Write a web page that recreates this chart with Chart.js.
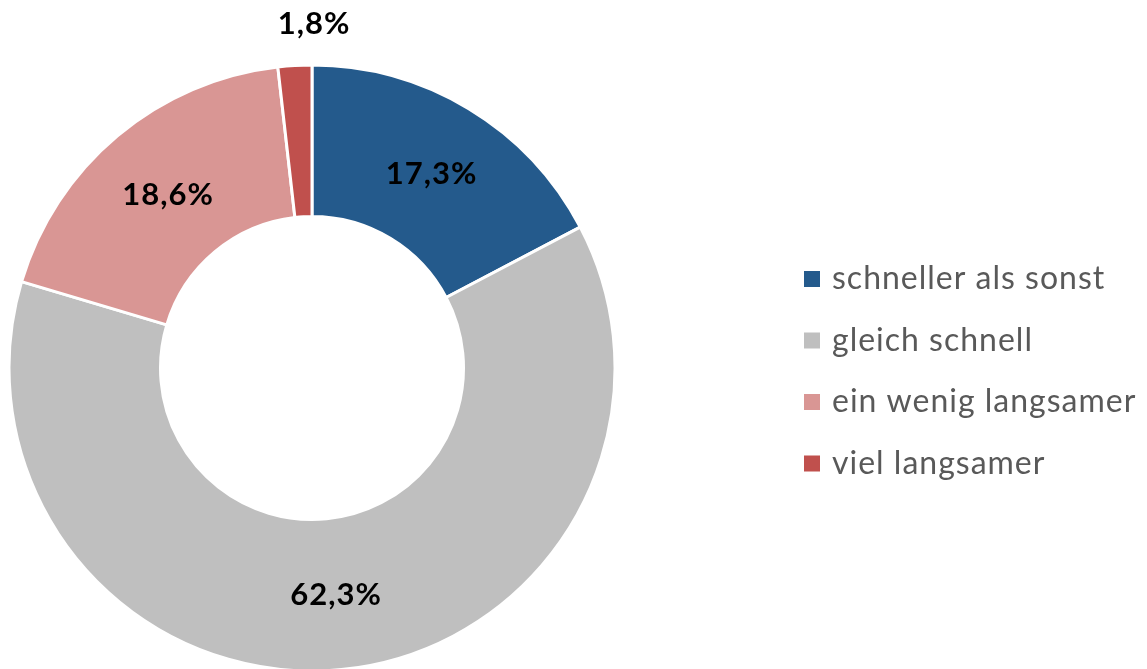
<!DOCTYPE html>
<html><head><meta charset="utf-8">
<script src="https://cdn.jsdelivr.net/npm/chart.js@4/dist/chart.umd.min.js"></script>
<style>html,body{margin:0;padding:0;background:#fff}#wrap{width:1147px;height:669px;position:relative}</style>
</head><body><div id="wrap"><canvas id="c" width="1147" height="669"></canvas></div>
<script>
const categories = ['schneller als sonst', 'gleich schnell', 'ein wenig langsamer', 'viel langsamer'];
const values = [17.3, 62.3, 18.6, 1.8];
const colors = ['#245A8C', '#BFBFBF', '#D99694', '#C0504D'];
const valueLabels = ['17,3%', '62,3%', '18,6%', '1,8%'];

const labelPlugin = {
  id: 'labels',
  afterDatasetsDraw(chart) {
    const ctx = chart.ctx;
    const meta = chart.getDatasetMeta(0);
    ctx.save();
    ctx.font = 'bold 31px Lato, "Liberation Sans", sans-serif';
    ctx.letterSpacing = '1px';
    ctx.fillStyle = '#000';
    ctx.textAlign = 'center';
    ctx.textBaseline = 'middle';
    meta.data.forEach((arc, i) => {
      const p = arc.getProps(['x','y','startAngle','endAngle','innerRadius','outerRadius'], true);
      let ang, r;
      if (values[i] < 5) {
        ang = p.endAngle; r = p.outerRadius + 42;
      } else {
        ang = (p.startAngle + p.endAngle) / 2; r = (p.innerRadius + p.outerRadius) / 2;
      }
      ctx.fillText(valueLabels[i], p.x + Math.cos(ang) * r + 2, p.y + Math.sin(ang) * r + 1);
    });
    // legend
    const lx = 804, ly0 = 279, dy = 61.5;
    ctx.font = '32px Lato, "Liberation Sans", sans-serif';
    ctx.textAlign = 'left';
    categories.forEach((c, i) => {
      const y = ly0 + i * dy;
      ctx.fillStyle = colors[i];
      ctx.fillRect(lx, y - 8, 16, 16);
      ctx.fillStyle = '#595959';
      ctx.fillText(c, 832, y);
    });
    ctx.restore();
  }
};

new Chart(document.getElementById('c'), {
  type: 'doughnut',
  data: {
    labels: categories,
    datasets: [{ data: values, backgroundColor: colors, borderColor: '#fff', borderWidth: 3 }]
  },
  options: {
    responsive: false,
    animation: false,
    radius: 303,
    cutout: '50%',
    layout: { padding: { left: 10, right: 533, top: 67, bottom: 0 } },
    plugins: { legend: { display: false }, tooltip: { enabled: false } }
  },
  plugins: [labelPlugin]
});
</script></body></html>
